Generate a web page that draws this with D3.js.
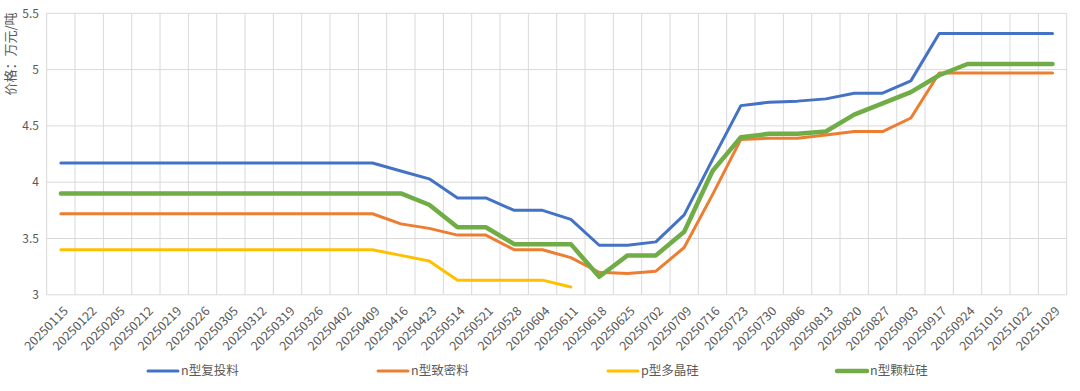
<!DOCTYPE html>
<html><head><meta charset="utf-8">
<script src="https://cdn.jsdelivr.net/npm/d3@7"></script>
<style>body{margin:0;background:#fff}svg{display:block}</style>
</head><body>
<svg id="c" width="1080" height="391"></svg>
<script>
const categories = ["20250115","20250122","20250205","20250212","20250219","20250226","20250305","20250312","20250319","20250326","20250402","20250409","20250416","20250423","20250514","20250521","20250528","20250604","20250611","20250618","20250625","20250702","20250709","20250716","20250723","20250730","20250806","20250813","20250820","20250827","20250903","20250917","20250924","20251015","20251022","20251029"];
const nRecharge = [4.17,4.17,4.17,4.17,4.17,4.17,4.17,4.17,4.17,4.17,4.17,4.17,4.10,4.03,3.86,3.86,3.75,3.75,3.67,3.44,3.44,3.47,3.71,4.20,4.68,4.71,4.72,4.74,4.79,4.79,4.90,5.32,5.32,5.32,5.32,5.32];
const nDense = [3.72,3.72,3.72,3.72,3.72,3.72,3.72,3.72,3.72,3.72,3.72,3.72,3.63,3.59,3.53,3.53,3.40,3.40,3.33,3.20,3.19,3.21,3.42,3.89,4.38,4.39,4.39,4.42,4.45,4.45,4.57,4.97,4.97,4.97,4.97,4.97];
const pPoly = [3.40,3.40,3.40,3.40,3.40,3.40,3.40,3.40,3.40,3.40,3.40,3.40,3.35,3.30,3.13,3.13,3.13,3.13,3.07,null,null,null,null,null,null,null,null,null,null,null,null,null,null,null,null,null];
const nGranular = [3.90,3.90,3.90,3.90,3.90,3.90,3.90,3.90,3.90,3.90,3.90,3.90,3.90,3.80,3.60,3.60,3.45,3.45,3.45,3.16,3.35,3.35,3.56,4.10,4.40,4.43,4.43,4.45,4.60,4.70,4.80,4.95,5.05,5.05,5.05,5.05];
const yTicks = [3,3.5,4,4.5,5,5.5];
const yTickLabels = ["3","3.5","4","4.5","5","5.5"];
const seriesNames = ["n型复投料","n型致密料","p型多晶硅","n型颗粒硅"];
const yTitle = "价格：万元/吨";

const series = [
  {name: seriesNames[0], values: nRecharge, color: "#4472C4", width: 3},
  {name: seriesNames[1], values: nDense, color: "#ED7D31", width: 3},
  {name: seriesNames[2], values: pPoly, color: "#FFC000", width: 3},
  {name: seriesNames[3], values: nGranular, color: "#70AD47", width: 4.5}
];

const svg = d3.select("#c");
const mLeft = 46.7, mRight = 1066.7, mTop = 13.3, mBottom = 294.8;
const x = d3.scaleBand().domain(categories).range([mLeft, mRight]).padding(0);
const y = d3.scaleLinear().domain([3, 5.5]).range([mBottom, mTop]);
const font = "'Microsoft YaHei','Noto Sans CJK SC','DejaVu Sans',sans-serif";
const textColor = "#595959";

// horizontal gridlines
svg.append("g").selectAll("line").data(yTicks).join("line")
  .attr("x1", mLeft).attr("x2", mRight)
  .attr("y1", d => y(d)).attr("y2", d => y(d))
  .attr("stroke", "#d9d9d9").attr("stroke-width", 1);
// vertical gridlines at band boundaries
const bounds = categories.map(c => x(c)).concat([mRight]);
svg.append("g").selectAll("line").data(bounds).join("line")
  .attr("x1", d => d).attr("x2", d => d)
  .attr("y1", mTop).attr("y2", mBottom)
  .attr("stroke", "#d9d9d9").attr("stroke-width", 1);

// y tick labels
svg.append("g").selectAll("text").data(yTicks).join("text")
  .attr("x", 39).attr("y", d => y(d)).attr("dy", "0.35em")
  .attr("text-anchor", "end").attr("font-family", font).attr("font-size", 12)
  .attr("fill", textColor).text((d, i) => yTickLabels[i]);

// y title
svg.append("text").attr("transform", "translate(15,54) rotate(-90)")
  .attr("text-anchor", "middle").attr("font-family", font).attr("font-size", 13)
  .attr("fill", textColor).text(yTitle);

// x labels
svg.append("g").selectAll("text").data(categories).join("text")
  .attr("transform", d => `translate(${x(d) + x.bandwidth()/2 + 5},${mBottom + 14}) rotate(-45)`)
  .attr("text-anchor", "end").attr("dy", "0.35em")
  .attr("font-family", font).attr("font-size", 12.5).attr("fill", textColor)
  .text(d => d);

// lines
const line = d3.line()
  .defined(d => d.v != null)
  .x(d => x(d.c) + x.bandwidth()/2)
  .y(d => y(d.v));
series.forEach(s => {
  svg.append("path")
    .datum(categories.map((c, i) => ({c, v: s.values[i]})))
    .attr("d", line).attr("fill", "none")
    .attr("stroke", s.color).attr("stroke-width", s.width)
    .attr("stroke-linejoin", "round").attr("stroke-linecap", "round");
});

// legend
const legendX = [148, 378, 608, 837];
const lg = svg.append("g").selectAll("g").data(series).join("g")
  .attr("transform", (d, i) => `translate(${legendX[i]},371)`);
lg.append("line").attr("x1", 0).attr("x2", 30).attr("y1", 0).attr("y2", 0)
  .attr("stroke", d => d.color).attr("stroke-width", d => d.width).attr("stroke-linecap", "round");
lg.append("text").attr("x", 33).attr("dy", "0.35em")
  .attr("font-family", font).attr("font-size", 12.5).attr("fill", textColor)
  .text(d => d.name);
</script>
</body></html>
